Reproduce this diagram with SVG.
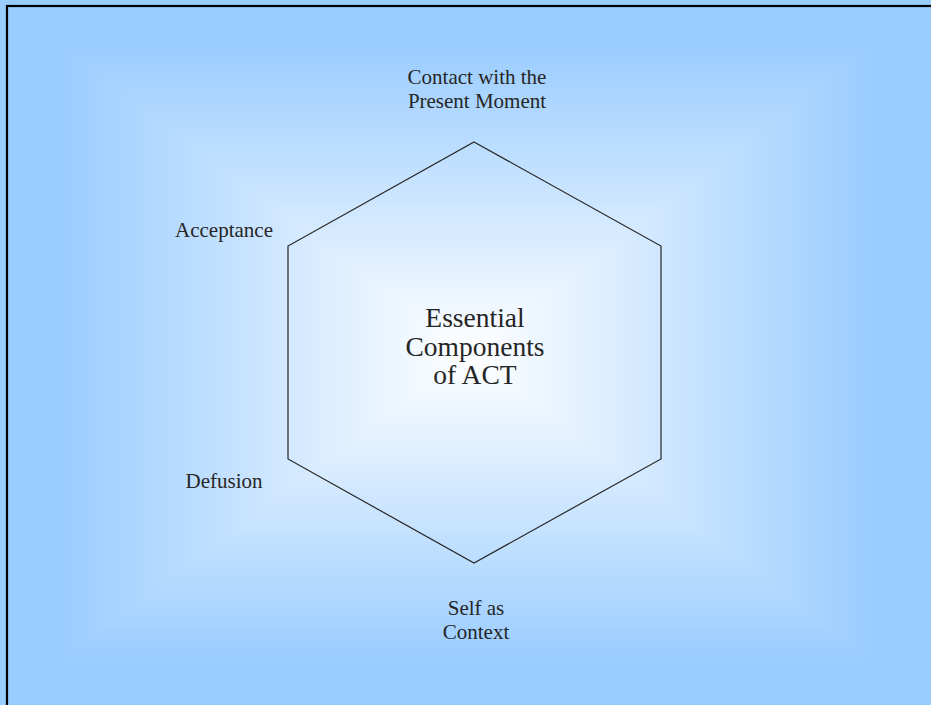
<svg xmlns="http://www.w3.org/2000/svg" width="931" height="705" viewBox="0 0 931 705">
<style>
text{font-family:'Liberation Serif','Times New Roman',serif;fill:#262626;text-anchor:middle}
.lbl{font-size:21px}
.big{font-size:27.5px}
.hex{fill:none;stroke:#262626;stroke-width:1.2}
</style>
<defs>
<linearGradient id="gV" gradientUnits="userSpaceOnUse" x1="0" y1="0" x2="0" y2="705">
<stop offset="0" stop-color="#99CCFF"/><stop offset="0.06" stop-color="#99CCFF"/><stop offset="0.5035" stop-color="#FFFFFF"/><stop offset="0.94" stop-color="#99CCFF"/><stop offset="1" stop-color="#99CCFF"/></linearGradient>
<linearGradient id="gL" gradientUnits="userSpaceOnUse" x1="0" y1="0" x2="470" y2="0">
<stop offset="0" stop-color="#99CCFF"/><stop offset="0.12" stop-color="#99CCFF"/><stop offset="1" stop-color="#FFFFFF"/></linearGradient>
<linearGradient id="gR" gradientUnits="userSpaceOnUse" x1="931" y1="0" x2="470" y2="0">
<stop offset="0" stop-color="#99CCFF"/><stop offset="0.12" stop-color="#99CCFF"/><stop offset="1" stop-color="#FFFFFF"/></linearGradient>
</defs>
<g id="background">
<rect x="0" y="0" width="931" height="705" fill="url(#gV)"/>
<polygon points="0,0 0,705 470,355" fill="url(#gL)"/>
<polygon points="931,0 931,705 470,355" fill="url(#gR)"/>
<rect x="7" y="6" width="940" height="720" fill="none" stroke="#000" stroke-width="2.2"/>
</g>
<g id="connectors"></g>
<g id="hexagon">
<polygon class="hex" points="474,142 661,246 661,459 474,563 288,459 288,246"/>
<text class="big" x="475" y="327">Essential</text>
<text class="big" x="475" y="356">Components</text>
<text class="big" x="475" y="384">of ACT</text>
</g>
<g id="contact">
<text class="lbl" x="477" y="84">Contact with the</text>
<text class="lbl" x="477" y="108">Present Moment</text>
</g>
<g id="acceptance">
<text class="lbl" x="224" y="237">Acceptance</text>
</g>
<g id="defusion">
<text class="lbl" x="224" y="488">Defusion</text>
</g>
<g id="self">
<text class="lbl" x="476" y="615">Self as</text>
<text class="lbl" x="476" y="639">Context</text>
</g>
</svg>
